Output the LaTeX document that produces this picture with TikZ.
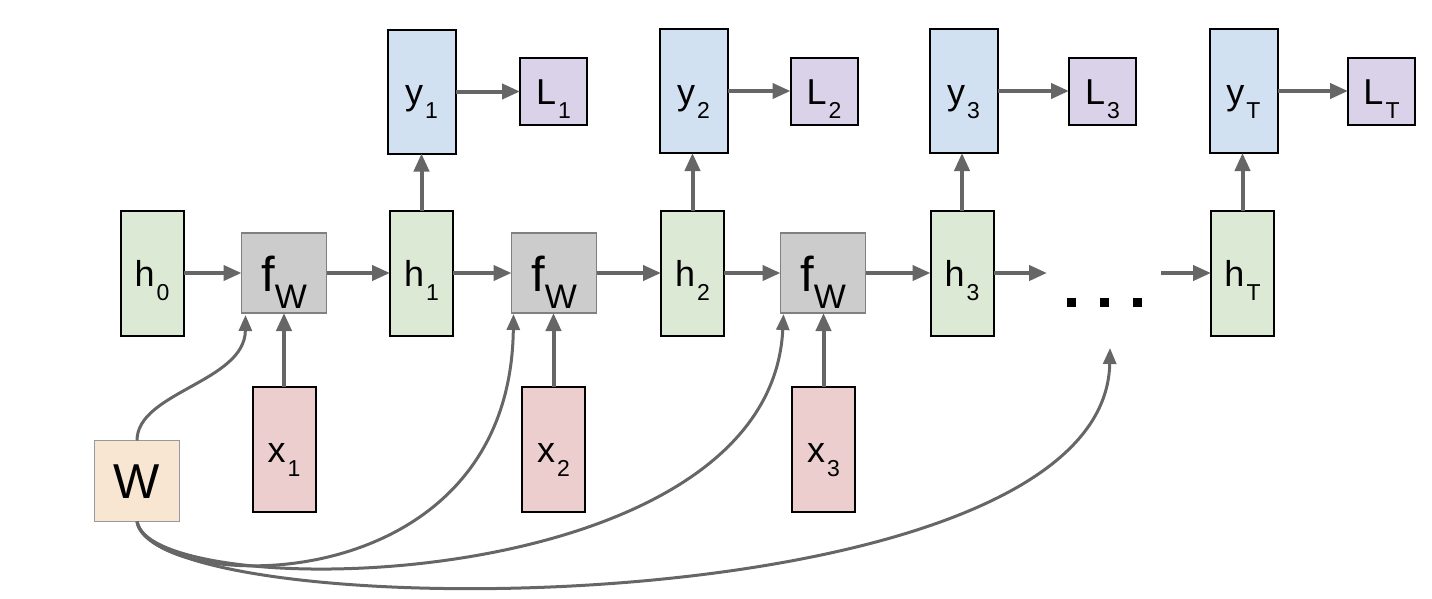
\documentclass[tikz,border=0pt]{standalone}
\usepackage{fontspec}
\setmainfont{Liberation Sans}
\usetikzlibrary{arrows.meta,calc}
\definecolor{hgreen}{RGB}{220,233,213}
\definecolor{yblue}{RGB}{210,225,242}
\definecolor{lpurple}{RGB}{217,210,232}
\definecolor{xpink}{RGB}{236,206,206}
\definecolor{worange}{RGB}{249,230,210}
\definecolor{fgray}{RGB}{204,204,204}
\definecolor{fborder}{RGB}{128,128,128}
\definecolor{arrowgray}{RGB}{102,102,102}
\newcommand{\lbl}[2]{#1\kern2pt\smash{\raisebox{-14pt}{\fontsize{23}{23}\selectfont #2}}}
\newcommand{\fw}{f\smash{\raisebox{-17pt}{\fontsize{34}{34}\selectfont W}}}
\begin{document}
\begin{tikzpicture}[x=1pt,y=-1pt,
  boxbase/.style={draw=black, line width=2pt, inner sep=0pt, outer sep=0pt,
    font=\fontsize{36}{40}\selectfont, text height=26pt, text depth=0pt},
  hbox/.style={boxbase, fill=hgreen, minimum width=63pt, minimum height=125pt},
  ybox/.style={boxbase, fill=yblue, minimum width=68pt, minimum height=124pt},
  lbox/.style={boxbase, fill=lpurple, minimum width=67pt, minimum height=67pt},
  xbox/.style={boxbase, fill=xpink, minimum width=63pt, minimum height=125pt},
  fbox/.style={draw=fborder, line width=1.8pt, fill=fgray, inner sep=0pt, outer sep=0pt,
    minimum width=85pt, minimum height=80pt,
    font=\fontsize{49}{50}\selectfont, text height=36pt, text depth=0pt},
  wbox/.style={draw=fborder!80, line width=1.8pt, fill=worange, inner sep=0pt, outer sep=0pt,
    minimum width=85pt, minimum height=81pt,
    font=\fontsize{49}{50}\selectfont, text height=35pt, text depth=0pt},
  conn/.style={draw=arrowgray, line width=4pt, -{Triangle[length=18pt,width=15pt]}},
  curv/.style={draw=arrowgray, line width=3pt, -{Triangle[length=16pt,width=13pt]}},
  dotsq/.style={fill=black, inner sep=0pt, minimum size=9pt}
]
\useasboundingbox (0,0) rectangle (1432,598);

% hidden states
\node[hbox] (h0) at (152,273) {\lbl{h}{0}};
\node[hbox] (h1) at (421.5,273) {\lbl{h}{1}};
\node[hbox] (h2) at (692.5,273) {\lbl{h}{2}};
\node[hbox] (h3) at (962,273) {\lbl{h}{3}};
\node[hbox] (hT) at (1242.5,273) {\lbl{h}{T}};

% f_W boxes
\node[fbox] (f1) at (284,273) {\fw};
\node[fbox] (f2) at (554,273) {\fw};
\node[fbox] (f3) at (823,273) {\fw};

% inputs
\node[xbox] (x1) at (284,449) {\lbl{x}{1}};
\node[xbox] (x2) at (553.5,449) {\lbl{x}{2}};
\node[xbox] (x3) at (823.5,449) {\lbl{x}{3}};

% outputs
\node[ybox] (y1) at (421.5,91.5) {\lbl{y}{1}};
\node[ybox] (y2) at (693.5,91) {\lbl{y}{2}};
\node[ybox] (y3) at (963.5,91) {\lbl{y}{3}};
\node[ybox] (yT) at (1243.5,91) {\lbl{y}{T}};

% losses
\node[lbox] (L1) at (553.5,91) {\lbl{L}{1}};
\node[lbox] (L2) at (824,91) {\lbl{L}{2}};
\node[lbox] (L3) at (1102.5,91) {\lbl{L}{3}};
\node[lbox] (LT) at (1381.5,91) {\lbl{L}{T}};

% weights
\node[wbox] (W) at (137,481) {W};

% dots
\node[dotsq] (d1) at (1071.5,302.5) {};
\node[dotsq] (d2) at (1104,302.5) {};
\node[dotsq] (d3) at (1137,302.5) {};

\coordinate (din) at (1047,273);
\coordinate (dout) at (1161,273);
\coordinate (t4) at (1110,348);
\coordinate (t1) at ([xshift=4pt,yshift=-2pt]f1.south west);
\coordinate (t2) at ([xshift=2pt,yshift=-1pt]f2.south west);
\coordinate (t3) at ([xshift=3pt,yshift=-1pt]f3.south west);

% horizontal chain
\draw[conn] (h0.east) -- (f1.west);
\draw[conn] (f1.east) -- (h1.west);
\draw[conn] (h1.east) -- (f2.west);
\draw[conn] (f2.east) -- (h2.west);
\draw[conn] (h2.east) -- (f3.west);
\draw[conn] (f3.east) -- (h3.west);
\draw[conn] (h3.east) -- (h3.east -| din);
\draw[conn] (dout) -- (dout -| hT.west);

% inputs up
\draw[conn] (x1.north) -- (f1.south);
\draw[conn] (x2.north) -- (x2.north |- f2.south);
\draw[conn] (x3.north) -- (x3.north |- f3.south);

% hidden to outputs
\draw[conn] (h1.north) -- (h1.north |- y1.south);
\draw[conn] (h2.north) -- (h2.north |- y2.south);
\draw[conn] (h3.north) -- (h3.north |- y3.south);
\draw[conn] (hT.north) -- (hT.north |- yT.south);

% outputs to losses
\draw[conn] (y1.east) -- (y1.east -| L1.west);
\draw[conn] (y2.east) -- (y2.east -| L2.west);
\draw[conn] (y3.east) -- (y3.east -| L3.west);
\draw[conn] (yT.east) -- (yT.east -| LT.west);

% weight sharing curves
\draw[curv] (W.north) .. controls (137,392) and (245,382) .. (t1);
\draw[curv] (W.south) .. controls (155,595) and (510,605) .. (t2);
\draw[curv] (W.south) .. controls (150,605) and (770,600) .. (t3);
\draw[curv] (W.south) .. controls (150,628) and (1105,630) .. (t4);
\end{tikzpicture}
\end{document}
